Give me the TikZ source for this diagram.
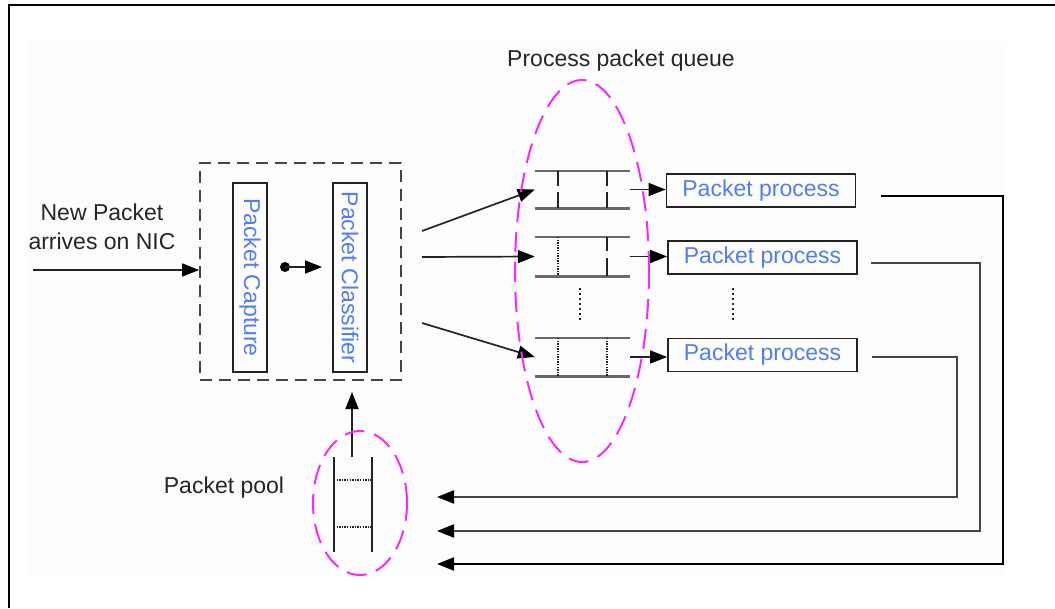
\documentclass[tikz,border=0pt]{standalone}
\usepackage{fontspec}
\setmainfont{Liberation Sans}
\usetikzlibrary{arrows.meta}
\definecolor{txtblue}{RGB}{80,125,245}
\definecolor{mag}{RGB}{250,40,250}
\definecolor{lin}{RGB}{35,35,35}
\definecolor{qgray}{RGB}{105,105,105}
\definecolor{bgc}{RGB}{253,253,253}
\begin{document}
\begin{tikzpicture}[x=1pt,y=-1pt,
  every node/.style={font=\fontsize{23}{29}\selectfont, inner sep=0pt, text=black!85},
  tip/.style={-{Triangle[length=17pt,width=13pt,color=black]}},
  arr/.style={draw=lin, line width=1.7pt, tip},
  ret/.style={draw=lin!85, line width=1.9pt, tip},
  bbox/.style={draw=lin, line width=1.8pt, text=txtblue, rectangle},
  vbox/.style={bbox, minimum width=34pt, minimum height=189pt},
  pbox/.style={bbox, minimum width=189pt, minimum height=33pt},
  qnode/.style={rectangle, minimum width=95pt},
  qline/.style={draw=qgray, line width=2.6pt},
  qvert/.style={draw=lin, line width=1.6pt},
  qdot/.style={draw=lin, line width=1.3pt, dash pattern=on 1.3pt off 1.3pt},
  bigdots/.style={draw=lin, line width=2pt, dash pattern=on 2pt off 3pt},
  magell/.style={draw=mag, line width=2pt, dash pattern=on 20pt off 10pt}
]
\useasboundingbox (0,0) rectangle (1055,608);
\fill[bgc] (28,42) rectangle (1004,577);
\draw[line width=2.5pt] (9,608) -- (9,5) -- (1055,5);

% labels
\node[align=center] (newp) at (102,227) {New Packet\\arrives on NIC};
\node (ppq) at (621,61) {Process packet queue};
\node (ppool) at (224,488) {Packet pool};

% dashed box with capture/classifier
\node[draw=lin!85, line width=1.8pt, dash pattern=on 12pt off 7pt, minimum width=201pt, minimum height=217pt] (dbox) at (300.5,271.5) {};
\node[vbox] (cap) at (250,277.5) {};
\node[rotate=-90, text=txtblue] at (cap.center) {Packet Capture};
\node[vbox] (cls) at (350,277.5) {};
\node[rotate=-90, text=txtblue] at (cls.center) {Packet Classifier};
\coordinate (da) at (285,267);
\coordinate (db) at (322,267);
\fill[black] (da) circle (5pt);
\draw[arr] (da) -- (db);

\coordinate (in) at (33,270);
\draw[arr] (in) -- (dbox.west |- in);

% queues
\node[qnode, minimum height=37pt] (q1) at (582.5,189.5) {};
\node[qnode, minimum height=39pt] (q2) at (582.5,256.5) {};
\node[qnode, minimum height=38pt] (q3) at (582.5,357) {};
\foreach \q in {q1,q2,q3}{
  \draw[qline] (\q.north west) -- (\q.north east);
  \draw[qline] (\q.south west) -- (\q.south east);
}
\draw[qvert] (558,171) -- (558,186) (558,192) -- (558,208);
\draw[qvert] (607,171) -- (607,186) (607,192) -- (607,208);
\draw[qdot] (558,237) -- (558,276);
\draw[qvert] (607,237) -- (607,251) (607,258) -- (607,276);
\draw[qdot] (558,338) -- (558,376);
\draw[qdot] (607,338) -- (607,376);
\draw[bigdots] (580,288) -- (580,320);

\coordinate (s1) at (422,231);
\coordinate (s2) at (422,257);
\coordinate (s3) at (422,323);
\draw[arr] (s1) -- (q1.west);
\draw[arr] (s2) -- (q2.west);
\draw[arr] (s3) -- (q3.west);

% packet process boxes
\node[pbox] (p1) at (761,190.5) {Packet process};
\node[pbox] (p2) at (762.5,257.5) {Packet process};
\node[pbox] (p3) at (762.5,355) {Packet process};
\draw[bigdots] (733,288) -- (733,320);
\draw[arr] (q1.east) -- (p1.west |- q1.east);
\draw[arr] (q2.east) -- (p2.west |- q2.east);
\draw[arr] (q3.east) -- (p3.west |- q3.east);

% return lines
\coordinate (r1) at (881,196);
\coordinate (r2) at (871,263);
\coordinate (r3) at (872,357);
\coordinate (e1) at (437,564);
\coordinate (e2) at (437,531);
\coordinate (e3) at (437,497);
\draw[ret, draw=black] (r1) -| (1003,564) -- (e1);
\draw[ret] (r2) -| (980,531) -- (e2);
\draw[ret] (r3) -| (957,497) -- (e3);

% packet pool
\node[rectangle, minimum width=38pt, minimum height=95pt] (pool) at (353,504.5) {};
\draw[qvert, line width=2pt] (pool.north west) -- (pool.south west);
\draw[qvert, line width=2pt] (pool.north east) -- (pool.south east);
\draw[qdot] (334,480) -- (372,480);
\draw[qdot] (334,527) -- (372,527);
\coordinate (pt) at (352,457);
\draw[arr] (pt) -- (352,392);

% magenta ellipses
\draw[magell] (582,271) ellipse [x radius=67pt, y radius=191pt];
\draw[magell] (360,503) ellipse [x radius=47pt, y radius=72pt];
\end{tikzpicture}
\end{document}
